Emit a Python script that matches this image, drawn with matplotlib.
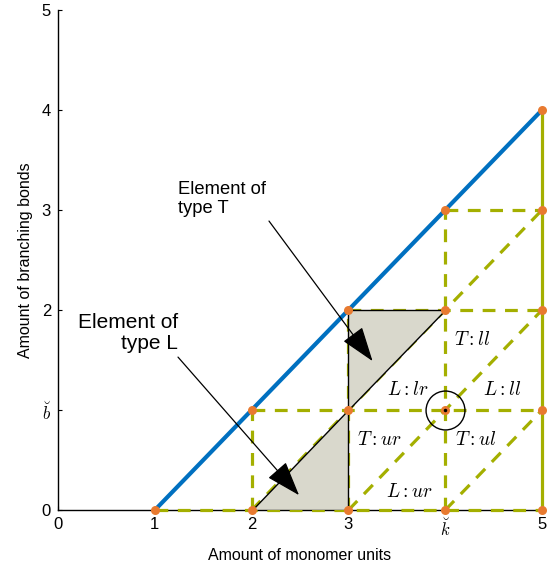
import matplotlib
matplotlib.use("Agg")
import matplotlib.pyplot as plt
from matplotlib.patches import Polygon, FancyArrowPatch

plt.rcParams['font.family'] = ['Liberation Sans', 'DejaVu Sans']
plt.rcParams['mathtext.fontset'] = 'cm'

# ---- data ----
x_ticks = [0, 1, 2, 3, 4, 5]
x_tick_labels = ['0', '1', '2', '3', r'$\breve{k}$', '5']
y_ticks = [0, 1, 2, 3, 4, 5]
y_tick_labels = ['0', r'$\breve{b}$', '2', '3', '4', '5']

boundary_x = [1, 5]
boundary_y = [0, 4]

lattice_x = [1, 2, 3, 4, 5, 2, 3, 4, 5, 3, 4, 5, 4, 5, 5]
lattice_y = [0, 0, 0, 0, 0, 1, 1, 1, 1, 2, 2, 2, 3, 3, 4]

h_levels = [0, 1, 2, 3]
h_starts = [1, 2, 3, 4]
h_end = 5

v_positions = [2, 3, 4]
v_tops = [1, 2, 3]

diag_starts = [2, 3, 4]
diag_end_x = 5

right_x = 5
right_top = 4

tri_L = [(2, 0), (3, 0), (3, 1)]
tri_T = [(3, 1), (3, 2), (4, 2)]

region_labels = [r'$T:ll$', r'$L:lr$', r'$L:ll$', r'$T:ur$', r'$T:ul$', r'$L:ur$']
region_x = [4.28, 3.61, 4.59, 3.32, 4.32, 3.63]
region_y = [1.70, 1.20, 1.20, 0.70, 0.70, 0.18]

marked_point = (4, 1)

# ---- figure ----
fig = plt.figure(figsize=(5.49, 5.70), dpi=100)
ax = fig.add_axes([0.1056, 0.105, 0.8816, 0.8775])

olive = '#A4AF00'
orange = '#E87A30'
blue = '#0070C0'
dash = (0, (4, 3))

for lvl, xs in zip(h_levels, h_starts):
    ax.plot([xs, h_end], [lvl, lvl], color=olive, lw=2.3, ls=dash, zorder=3, clip_on=False)
for xv, top in zip(v_positions, v_tops):
    ax.plot([xv, xv], [0, top], color=olive, lw=2.3, ls=dash, zorder=3, clip_on=False)
for xs in diag_starts:
    ax.plot([xs, diag_end_x], [0, diag_end_x - xs], color=olive, lw=2.3, ls=dash, zorder=3, clip_on=False)
ax.plot([right_x, right_x], [0, right_top], color=olive, lw=2.3, zorder=3, clip_on=False)

for tri in (tri_L, tri_T):
    ax.add_patch(Polygon(tri, closed=True, facecolor='#D9D8CC', edgecolor='black', lw=1.0, zorder=3.5))

ax.plot(boundary_x, boundary_y, color=blue, lw=3.0, zorder=4, solid_capstyle='butt')

ax.plot(lattice_x, lattice_y, 'o', color=orange, ms=6.5, zorder=5, clip_on=False, mew=0)

ax.plot([marked_point[0]], [marked_point[1]], 'o', mfc='none', mec='black', ms=28, mew=1.0, zorder=6)
ax.plot([marked_point[0]], [marked_point[1]], 'o', color='black', ms=1.5, zorder=7)

for lab, xx, yy in zip(region_labels, region_x, region_y):
    ax.text(xx, yy, lab, fontsize=14, ha='center', va='center', zorder=6)

# annotations
arrow_style = '-|>,head_length=1.1,head_width=0.38'
ax.text(1.24, 3.29, 'Element of\ntype T', fontsize=13.2, ha='left', va='top', linespacing=1.15)
ax.add_patch(FancyArrowPatch((2.18, 2.89), (3.25, 1.49), arrowstyle=arrow_style,
                             mutation_scale=20, color='black', lw=0.9, zorder=8, shrinkA=0, shrinkB=0))
ax.text(1.24, 1.97, 'Element of\ntype L', fontsize=15, ha='right', va='top', linespacing=1.12)
ax.add_patch(FancyArrowPatch((1.24, 1.53), (2.49, 0.15), arrowstyle=arrow_style,
                             mutation_scale=20, color='black', lw=0.9, zorder=8, shrinkA=0, shrinkB=0))

ax.set_xlim(0, 5)
ax.set_ylim(0, 5)
ax.set_xticks(x_ticks)
ax.set_xticklabels(x_tick_labels)
ax.set_yticks(y_ticks)
ax.set_yticklabels(y_tick_labels)
ax.tick_params(direction='in', length=3, width=0.8, labelsize=12, pad=5)
for s in ('top', 'right'):
    ax.spines[s].set_visible(False)
for s in ('left', 'bottom'):
    ax.spines[s].set_linewidth(1.0)
ax.set_xlabel('Amount of monomer units', fontsize=11.5, labelpad=6)
ax.set_ylabel('Amount of branching bonds', fontsize=11.5, labelpad=6)

fig.savefig('out.png', dpi=100)
